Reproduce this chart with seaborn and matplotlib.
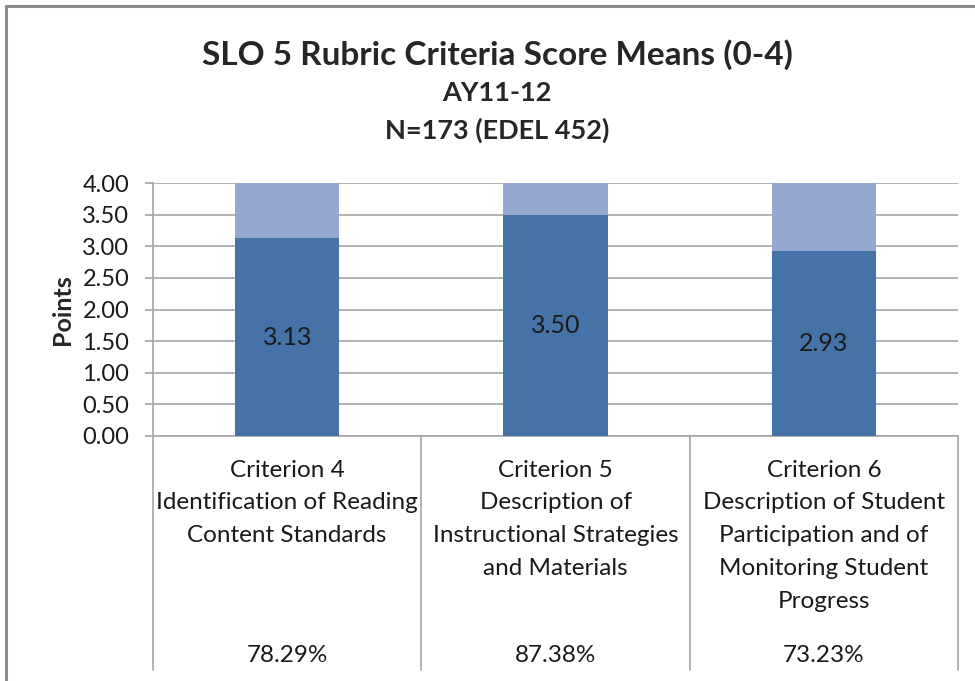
import matplotlib
matplotlib.use("Agg")
import matplotlib.pyplot as plt
import matplotlib.transforms as mtransforms
from matplotlib.lines import Line2D
import seaborn as sns
import pandas as pd

# data
criteria = ["Criterion 4", "Criterion 5", "Criterion 6"]
descriptions = [
    "Identification of Reading\nContent Standards",
    "Description of\nInstructional Strategies\nand Materials",
    "Description of Student\nParticipation and of\nMonitoring Student\nProgress",
]
means = [3.13, 3.50, 2.93]
max_points = [4.0, 4.0, 4.0]
percents = ["78.29%", "87.38%", "73.23%"]
yticks = [0.0, 0.5, 1.0, 1.5, 2.0, 2.5, 3.0, 3.5, 4.0]

df = pd.DataFrame({"criterion": criteria, "mean": means, "max": max_points})

dark = "#4572A7"
light = "#95A8D0"
grid_gray = "#A6A6A6"
txt = "#1a1a1a"

sns.set_theme(style="white")
plt.rcParams["font.family"] = ["Lato", "DejaVu Sans"]

fig = plt.figure(figsize=(9.75, 6.81), dpi=100)
ax = fig.add_axes([153 / 975, 1 - 436 / 681, (958 - 153) / 975, (436 - 183) / 681])

# light bar for the full 0-4 range, dark bar for the mean on top of it
sns.barplot(data=df, x="criterion", y="max", color=light, width=0.39,
            saturation=1, ax=ax, zorder=2)
sns.barplot(data=df, x="criterion", y="mean", color=dark, width=0.39,
            saturation=1, ax=ax, zorder=3)
for p in ax.patches:
    p.set_edgecolor("none")

ax.set_xlim(-0.5, len(criteria) - 0.5)
ax.set_ylim(0, 4)
ax.set_yticks(yticks)
ax.set_yticklabels([f"{v:.2f}" for v in yticks], fontsize=17, color=txt)
ax.yaxis.grid(True, color=grid_gray, linewidth=1.2, zorder=0)
ax.set_axisbelow(True)
ax.tick_params(axis="y", length=6, width=1.2, color=grid_gray, pad=11, left=True)
for side in ["top", "right"]:
    ax.spines[side].set_visible(False)
for side in ["left", "bottom"]:
    ax.spines[side].set_color(grid_gray)
    ax.spines[side].set_linewidth(1.2)

ax.set_xlabel("")
ax.set_ylabel("Points", fontsize=18, fontweight="bold", labelpad=6)
ax.set_xticks(range(len(criteria)))
ax.set_xticklabels([f"{c}\n{d}" for c, d in zip(criteria, descriptions)],
                   fontsize=17.5, color=txt, linespacing=1.69, va="top")
ax.tick_params(axis="x", length=0, bottom=False, pad=17)

# mean values inside the bars
for i, m in enumerate(means):
    ax.text(i, m / 2, f"{m:.2f}", ha="center", va="center", fontsize=18,
            color=txt, zorder=4)

# table-like category cells below the axis
trans = mtransforms.blended_transform_factory(ax.transData, ax.transAxes)
for xb in [i - 0.5 for i in range(len(criteria) + 1)]:
    ax.add_line(Line2D([xb, xb], [0, -0.925], transform=trans, color=grid_gray,
                       linewidth=1.2, clip_on=False))
for i, pct in enumerate(percents):
    ax.text(i, -0.866, pct, transform=trans, ha="center", va="center",
            fontsize=17.5, color=txt)

# titles
fig.text(0.51, 1 - 55 / 681, "SLO 5 Rubric Criteria Score Means (0-4)",
         ha="center", va="center", fontsize=24, fontweight="bold")
fig.text(0.51, 1 - 93 / 681, "AY11-12", ha="center", va="center",
         fontsize=19.5, fontweight="bold")
fig.text(0.51, 1 - 130 / 681, "N=173 (EDEL 452)", ha="center", va="center",
         fontsize=19.5, fontweight="bold")

# chart frame (left and top edges visible in the reference)
fig.add_artist(Line2D([5.5 / 975, 5.5 / 975], [0, 1 - 5.5 / 681],
                      transform=fig.transFigure, color="#8C8C8C", linewidth=2.2))
fig.add_artist(Line2D([5.5 / 975, 1], [1 - 5.5 / 681, 1 - 5.5 / 681],
                      transform=fig.transFigure, color="#8C8C8C", linewidth=2.2))

fig.savefig("out.png", dpi=100, facecolor="white")
